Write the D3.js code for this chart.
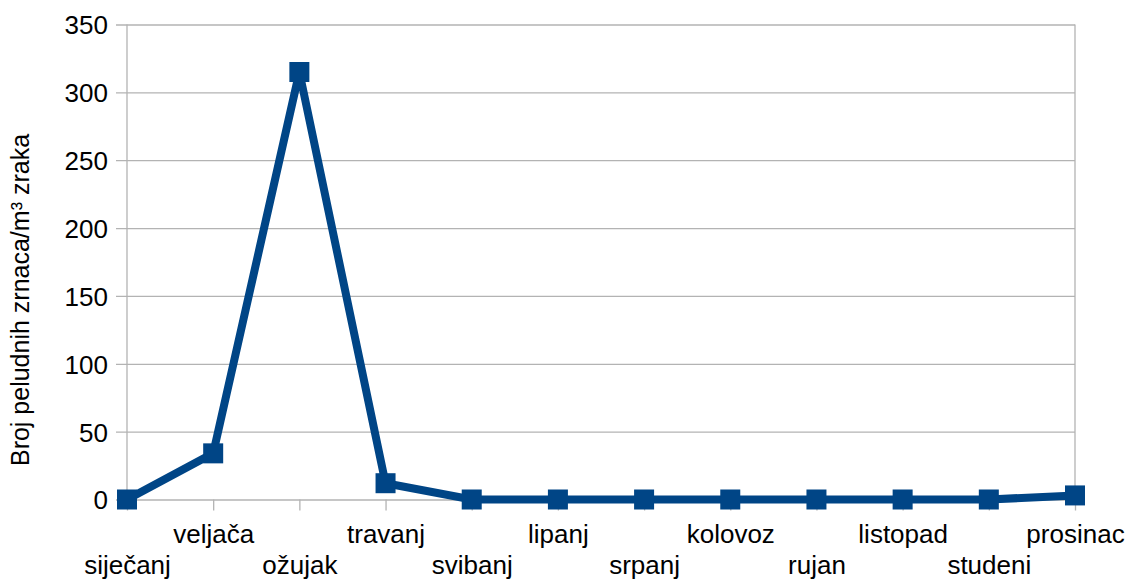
<!DOCTYPE html>
<html>
<head>
<meta charset="utf-8">
<script src="https://cdn.jsdelivr.net/npm/d3@7"></script>
<style>
  html, body { margin: 0; padding: 0; background: #fff; }
  svg { display: block; }
</style>
</head>
<body>
<svg id="chart"></svg>
<script>
const months = ['siječanj', 'veljača', 'ožujak', 'travanj', 'svibanj', 'lipanj',
  'srpanj', 'kolovoz', 'rujan', 'listopad', 'studeni', 'prosinac'];
const pollen = [0, 34, 315, 12, 0, 0, 0, 0, 0, 0, 0, 3];
const yTicks = [0, 50, 100, 150, 200, 250, 300, 350];
const yTitle = 'Broj peludnih zrnaca/m³ zraka';

const W = 1130, H = 579;
const M = { top: 24.5, right: 55, bottom: 79.5, left: 127 };
const FONT = "'Liberation Sans', Arial, sans-serif";
const GRID = '#b3b3b3';
const LINE = '#004586';

const svg = d3.select('#chart').attr('width', W).attr('height', H);
const innerW = W - M.left - M.right;
const innerH = H - M.top - M.bottom;
const g = svg.append('g').attr('transform', `translate(${M.left},${M.top})`);

const x = d3.scalePoint().domain(months).range([0, innerW]);
const y = d3.scaleLinear().domain([0, 350]).range([innerH, 0]);

// horizontal grid + y labels
g.append('g')
  .call(d3.axisLeft(y).tickValues(yTicks).tickSize(-(innerW + 11)).tickPadding(8).tickFormat(d3.format('d')))
  .attr('transform', 'translate(-11,0)')
  .call(sel => sel.select('.domain').remove())
  .call(sel => sel.selectAll('.tick line').attr('stroke', GRID).attr('stroke-width', 1.3))
  .call(sel => sel.selectAll('.tick text')
    .attr('fill', '#000').attr('font-family', FONT).attr('font-size', '26px').attr('dy', '0.36em'));

// left / right vertical borders
[0, innerW].forEach(px => {
  g.append('line').attr('x1', px).attr('x2', px).attr('y1', 0).attr('y2', innerH)
    .attr('stroke', GRID).attr('stroke-width', 1.3);
});

// x axis ticks + staggered labels
const xAxis = g.append('g').attr('transform', `translate(0,${innerH})`)
  .call(d3.axisBottom(x).tickSize(11).tickPadding(0))
  .call(sel => sel.select('.domain').remove())
  .call(sel => sel.selectAll('.tick line').attr('stroke', GRID).attr('stroke-width', 1.3));
xAxis.selectAll('.tick text')
  .attr('fill', '#000').attr('font-family', FONT).attr('font-size', '26px')
  .attr('dy', null)
  .attr('y', (d, i) => i % 2 === 1 ? 43 : 74);

// y title
svg.append('text')
  .attr('transform', 'translate(29,300) rotate(-90)')
  .attr('text-anchor', 'middle')
  .attr('font-family', FONT).attr('font-size', '25px').attr('fill', '#000')
  .text(yTitle);

// series line
const line = d3.line().x((d, i) => x(months[i])).y(d => y(d));
g.append('path').datum(pollen)
  .attr('fill', 'none').attr('stroke', LINE).attr('stroke-width', 8)
  .attr('stroke-linejoin', 'miter').attr('d', line);

// square markers
const S = 20;
g.selectAll('rect.mk').data(pollen).enter().append('rect')
  .attr('class', 'mk')
  .attr('x', (d, i) => x(months[i]) - S / 2)
  .attr('y', d => y(d) - S / 2)
  .attr('width', S).attr('height', S)
  .attr('fill', LINE);
</script>
</body>
</html>
